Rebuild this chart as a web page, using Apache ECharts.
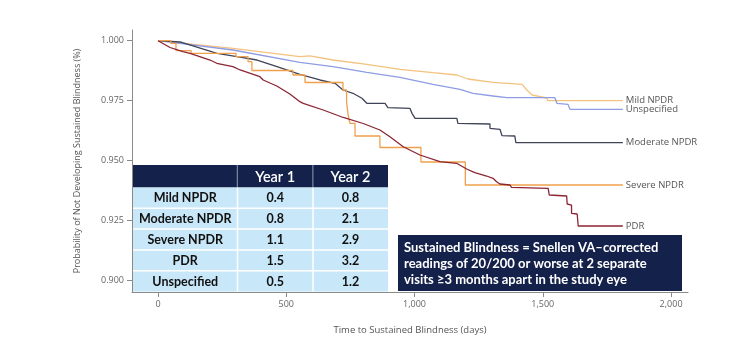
<!DOCTYPE html>
<html><head><meta charset="utf-8">
<script src="https://cdn.jsdelivr.net/npm/echarts@6/dist/echarts.min.js"></script>
<style>html,body{margin:0;padding:0;background:#fff}#c{width:750px;height:359px}</style>
</head><body><div id="c"></div>
<script>
// ---- data (days, survival probability) ----
const mildNPDR = [[0,1],[292,0.9968],[553,0.99331],[592,0.9937],[682,0.99193],[814,0.99014],[943,0.98805],[1072,0.98663],[1165,0.98567],[1208,0.984],[1306,0.98262],[1419,0.98178],[1438,0.9794],[1458,0.97731],[1516,0.97606],[1520,0.97493],[1812,0.97493]];
const unspecified = [[0,1],[292,0.99611],[553,0.99097],[682,0.98913],[814,0.98679],[943,0.98471],[1072,0.98178],[1177,0.97969],[1228,0.97802],[1306,0.97689],[1360,0.97618],[1547,0.97618],[1555,0.97384],[1598,0.97342],[1606,0.97133],[1812,0.97133]];
const moderateNPDR = [[0,1],[86,0.99946],[230,0.99473],[308,0.99331],[386,0.99193],[464,0.98913],[553,0.98596],[631,0.98358],[690,0.9822],[721,0.9794],[760,0.97802],[795,0.97593],[814,0.97384],[885,0.97384],[896,0.972],[982,0.97175],[990,0.96966],[1002,0.96757],[1165,0.96757],[1169,0.96548],[1294,0.96519],[1294,0.9634],[1333,0.96298],[1341,0.9603],[1391,0.96018],[1395,0.95738],[1812,0.95738]];
const severeNPDR = [[0,1],[50,0.9989],[70,0.99582],[129,0.99473],[304,0.99331],[351,0.99122],[366,0.98755],[526,0.98567],[573,0.98253],[721,0.9794],[735,0.97451],[741,0.96895],[748,0.96548],[768,0.96018],[865,0.95537],[1025,0.94931],[1198,0.9397],[1812,0.9397]];
const pdr = [[0,1],[47,0.99716],[97,0.9954],[125,0.99473],[203,0.99193],[229,0.99056],[292,0.98913],[320,0.98776],[397,0.98496],[410,0.98358],[463,0.98107],[514,0.97773],[553,0.97451],[566,0.97384],[644,0.97104],[722,0.96791],[800,0.9654],[865,0.96268],[904,0.95988],[956,0.9557],[1021,0.95224],[1099,0.94944],[1164,0.94877],[1203,0.94639],[1235,0.94484],[1281,0.94346],[1306,0.94251],[1320,0.94108],[1333,0.94012],[1372,0.9397],[1378,0.93874],[1521,0.93832],[1525,0.93552],[1593,0.9351],[1595,0.93176],[1612,0.93134],[1612,0.92787],[1634,0.92758],[1638,0.92256],[1812,0.92256]];

const xTicks = [0, 500, 1000, 1500, 2000];
const yTicks = [0.900, 0.925, 0.950, 0.975, 1.000];

const tableGroups = ['Mild NPDR','Moderate NPDR','Severe NPDR','PDR','Unspecified'];
const tableHeader = ['', 'Year 1', 'Year 2'];
const year1 = ['0.4','0.8','1.1','1.5','0.5'];
const year2 = ['0.8','2.1','2.9','3.2','1.2'];
const noteLines = ['Sustained Blindness = Snellen VA\u2013corrected','readings of 20/200 or worse at 2 separate','visits \u22653 months apart in the study eye'];

// ---- table graphic ----
const NAVY = '#14214a', CELL = '#c8e7f8';
const colX = [133, 237.5, 313, 388];
const tTop = 165, hH = 22.5, rH = 20.8;
const g = [];
g.push({type:'rect', shape:{x:colX[0], y:tTop, width:colX[3]-colX[0], height:hH}, style:{fill:NAVY}});
g.push({type:'rect', shape:{x:colX[0], y:tTop+hH, width:colX[3]-colX[0], height:rH*tableGroups.length}, style:{fill:CELL}});
for (let c=1;c<3;c++){
  g.push({type:'rect', shape:{x:colX[c]-0.75, y:tTop, width:1.2, height:hH}, style:{fill:'#7d87a3'}});
  g.push({type:'rect', shape:{x:colX[c]-0.75, y:tTop+hH, width:1.5, height:rH*tableGroups.length}, style:{fill:'#ffffff'}});
}
for (let r=1;r<tableGroups.length;r++){
  g.push({type:'rect', shape:{x:colX[0], y:tTop+hH+r*rH-0.75, width:colX[3]-colX[0], height:1.5}, style:{fill:'#ffffff'}});
}
for (let c=1;c<3;c++){
  g.push({type:'text', x:(colX[c]+colX[c+1])/2, y:tTop+hH/2+1, style:{text:tableHeader[c], fill:'#fff', font:'600 14.5px Lato', align:'center', verticalAlign:'middle'}});
}
tableGroups.forEach((name,i)=>{
  const cy = tTop+hH+rH*i+rH/2+0.5;
  [name, year1[i], year2[i]].forEach((t,c)=>{
    g.push({type:'text', x:(colX[c]+colX[c+1])/2, y:cy, style:{text:t, fill:'#111', font:'bold 12.5px Lato', align:'center', verticalAlign:'middle'}});
  });
});
// note box
g.push({type:'rect', shape:{x:398, y:235, width:284, height:56}, style:{fill:NAVY}});
noteLines.forEach((t,i)=>{
  g.push({type:'text', x:404, y:248+i*16, style:{text:t, fill:'#fff', font:'bold 13px Lato', align:'left', verticalAlign:'middle'}});
});

const series = [
  {name:'Mild NPDR', data:mildNPDR, color:'#f3c27e'},
  {name:'Unspecified', data:unspecified, color:'#8f9ce4'},
  {name:'Moderate NPDR', data:moderateNPDR, color:'#3f4459'},
  {name:'Severe NPDR', data:severeNPDR, color:'#f0a04c', step:'end'},
  {name:'PDR', data:pdr, color:'#8c2532'}
].map(s=>({
  type:'line', name:s.name, data:s.data, step:s.step||false, showSymbol:false, symbol:'none',
  lineStyle:{color:s.color, width:1.3}, itemStyle:{color:s.color},
  endLabel:{show:true, formatter:s.name, color:'#555', fontSize:9.5, fontFamily:'Open Sans', distance:3},
  silent:true, z:3
}));

const axisColor = '#8a8a8a';
const chart = echarts.init(document.getElementById('c'), null, {renderer:'canvas'});
chart.setOption({
  animation:false,
  grid:{left:132, right:62, top:30, bottom:67},
  xAxis:{type:'value', min:-101.4, max:2066,
    name:'Time to Sustained Blindness (days)', nameLocation:'middle', nameGap:33,
    nameTextStyle:{color:'#555', fontSize:9.5, fontFamily:'Open Sans'},
    axisLine:{show:true, onZero:false, lineStyle:{color:axisColor}},
    axisTick:{show:true, length:5, lineStyle:{color:axisColor}, customValues:xTicks},
    axisLabel:{color:'#666', fontSize:9, fontFamily:'Open Sans', margin:8, customValues:xTicks,
      formatter:v=>v.toLocaleString('en-US')},
    splitLine:{show:false}},
  yAxis:{type:'value', min:0.89499, max:1.00447,
    name:'Probability of Not Developing Sustained Blindness (%)', nameLocation:'middle', nameGap:50,
    nameTextStyle:{color:'#555', fontSize:9, fontFamily:'Open Sans'},
    axisLine:{show:true, onZero:false, lineStyle:{color:axisColor}},
    axisTick:{show:true, length:5, lineStyle:{color:axisColor}, customValues:yTicks},
    axisLabel:{color:'#666', fontSize:9, fontFamily:'Open Sans', margin:8, customValues:yTicks,
      formatter:v=>v.toFixed(3)},
    splitLine:{show:false}},
  series:series,
  graphic:g
});
</script></body></html>
